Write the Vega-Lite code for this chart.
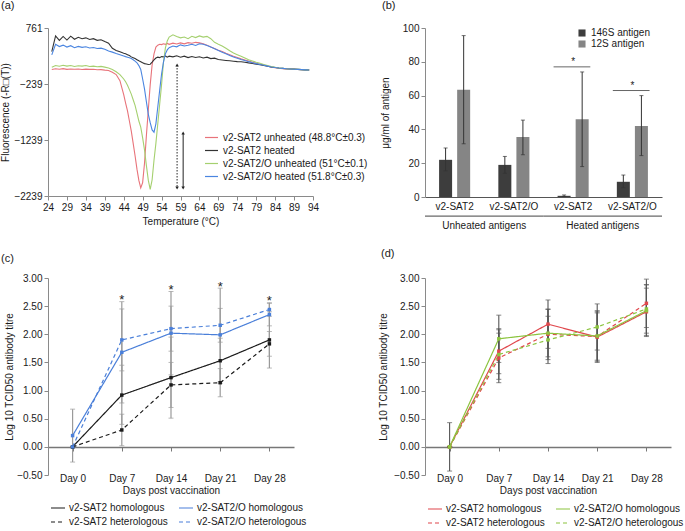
{
  "$schema": "https://vega.github.io/schema/vega-lite/v6.json",
  "background": "white",
  "padding": {"left": 0, "top": 0, "right": 2, "bottom": 0},
  "columns": 2,
  "bounds": "flush",
  "align": "each",
  "spacing": {"row": 81, "column": 112},
  "resolve": {
    "scale": {"color": "independent", "strokeDash": "independent", "shape": "independent"},
    "legend": {"color": "independent", "strokeDash": "independent", "shape": "independent"}
  },
  "config": {
    "font": "Liberation Sans",
    "view": {"stroke": null},
    "axis": {"labelFontSize": 10, "titleFontSize": 10, "titleFontWeight": "normal", "labelColor": "#1a1a1a", "titleColor": "#1a1a1a", "domainColor": "#8a8a8a", "tickColor": "#8a8a8a", "grid": false, "tickSize": 4, "labelPadding": 2, "labelOverlap": false, "labelFlush": false},
    "legend": {"labelFontSize": 10, "labelColor": "#1a1a1a"},
    "title": {"fontSize": 11, "fontWeight": "normal", "anchor": "start", "frame": "group", "color": "#1a1a1a"}
  },
  "concat": [
    {
      "width": 265, "height": 168,
      "title": {"text": "(a)", "dx": -47, "offset": 12},
      "layer": [
        {
          "data": {"values": [
            {"T":25,"r":20,"k":340,"g":60,"b":280},
            {"T":26,"r":32,"k":620,"g":92,"b":470},
            {"T":27,"r":24,"k":540,"g":78,"b":430},
            {"T":28,"r":36,"k":610,"g":96,"b":455},
            {"T":29,"r":22,"k":545,"g":80,"b":420},
            {"T":30,"r":30,"k":615,"g":92,"b":445},
            {"T":31,"r":24,"k":560,"g":74,"b":410},
            {"T":32,"r":30,"k":595,"g":86,"b":432},
            {"T":33,"r":20,"k":570,"g":80,"b":415},
            {"T":34,"r":26,"k":585,"g":90,"b":425},
            {"T":35,"r":22,"k":555,"g":74,"b":405},
            {"T":36,"r":24,"k":570,"g":80,"b":412},
            {"T":37,"r":16,"k":540,"g":70,"b":395},
            {"T":38,"r":18,"k":552,"g":76,"b":402},
            {"T":39,"r":8,"k":520,"g":62,"b":380},
            {"T":40,"r":2,"k":490,"g":48,"b":350},
            {"T":41,"r":-30,"k":400,"g":20,"b":330},
            {"T":42,"r":-70,"k":360,"g":-20,"b":305},
            {"T":43,"r":-180,"k":335,"g":-70,"b":285},
            {"T":44,"r":-430,"k":310,"g":-150,"b":262},
            {"T":44.5,"r":-580,"k":300,"g":-200,"b":250},
            {"T":45,"r":-720,"k":285,"g":-260,"b":240},
            {"T":45.5,"r":-900,"k":270,"g":-340,"b":230},
            {"T":46,"r":-1080,"k":245,"g":-420,"b":215},
            {"T":46.5,"r":-1300,"k":230,"g":-520,"b":195},
            {"T":47,"r":-1520,"k":215,"g":-620,"b":170},
            {"T":47.5,"r":-1760,"k":195,"g":-760,"b":140},
            {"T":48,"r":-1960,"k":175,"g":-900,"b":90},
            {"T":48.5,"r":-2095,"k":160,"g":-1010,"b":20},
            {"T":49,"r":-2000,"k":140,"g":-1200,"b":-150},
            {"T":49.5,"r":-1650,"k":125,"g":-1420,"b":-330},
            {"T":50,"r":-1150,"k":118,"g":-1700,"b":-560},
            {"T":50.5,"r":-700,"k":110,"g":-1960,"b":-780},
            {"T":51,"r":-250,"k":115,"g":-2120,"b":-930},
            {"T":51.5,"r":100,"k":150,"g":-1950,"b":-1060},
            {"T":52,"r":300,"k":190,"g":-1600,"b":-1100},
            {"T":52.5,"r":420,"k":225,"g":-1300,"b":-950},
            {"T":53,"r":455,"k":240,"g":-950,"b":-650},
            {"T":53.5,"r":470,"k":232,"g":-600,"b":-350},
            {"T":54,"r":465,"k":250,"g":-250,"b":-60},
            {"T":54.5,"r":480,"k":245,"g":150,"b":150},
            {"T":55,"r":470,"k":262,"g":400,"b":300},
            {"T":55.5,"r":485,"k":240,"g":530,"b":370},
            {"T":56,"r":470,"k":258,"g":600,"b":410},
            {"T":57,"r":490,"k":245,"g":640,"b":440},
            {"T":58,"r":475,"k":265,"g":610,"b":425},
            {"T":59,"r":495,"k":238,"g":585,"b":460},
            {"T":60,"r":478,"k":258,"g":600,"b":440},
            {"T":61,"r":500,"k":232,"g":570,"b":452},
            {"T":62,"r":488,"k":252,"g":612,"b":470},
            {"T":63,"r":505,"k":235,"g":590,"b":448},
            {"T":64,"r":495,"k":248,"g":620,"b":480},
            {"T":65,"r":480,"k":225,"g":598,"b":470},
            {"T":66,"r":455,"k":240,"g":612,"b":450},
            {"T":67,"r":420,"k":215,"g":570,"b":420},
            {"T":68,"r":395,"k":222,"g":505,"b":390},
            {"T":69,"r":365,"k":198,"g":470,"b":360},
            {"T":70,"r":340,"k":190,"g":440,"b":330},
            {"T":71,"r":310,"k":182,"g":400,"b":300},
            {"T":72,"r":285,"k":175,"g":355,"b":272},
            {"T":73,"r":255,"k":168,"g":315,"b":245},
            {"T":74,"r":235,"k":160,"g":285,"b":222},
            {"T":75,"r":210,"k":158,"g":255,"b":200},
            {"T":76,"r":190,"k":150,"g":225,"b":180},
            {"T":77,"r":170,"k":138,"g":195,"b":160},
            {"T":78,"r":150,"k":128,"g":172,"b":142},
            {"T":79,"r":130,"k":115,"g":150,"b":125},
            {"T":80,"r":115,"k":104,"g":130,"b":110},
            {"T":81,"r":100,"k":90,"g":110,"b":95},
            {"T":82,"r":82,"k":78,"g":90,"b":80},
            {"T":83,"r":62,"k":64,"g":72,"b":66},
            {"T":84,"r":50,"k":55,"g":60,"b":55},
            {"T":85,"r":42,"k":46,"g":46,"b":46},
            {"T":86,"r":36,"k":40,"g":40,"b":40},
            {"T":87,"r":30,"k":34,"g":34,"b":34},
            {"T":88,"r":28,"k":30,"g":30,"b":30},
            {"T":89,"r":24,"k":26,"g":25,"b":25},
            {"T":90,"r":20,"k":22,"g":22,"b":22},
            {"T":91,"r":18,"k":18,"g":18,"b":18},
            {"T":92,"r":14,"k":14,"g":14,"b":14},
            {"T":93,"r":10,"k":10,"g":10,"b":10}
          ]},
          "transform": [{"fold": ["r", "k", "g", "b"], "as": ["s", "v"]}],
          "mark": {"type": "line", "strokeWidth": 1.1},
          "encoding": {
            "x": {"field": "T", "type": "quantitative", "scale": {"domain": [24, 94], "nice": false, "zero": false}, "axis": {"values": [24,29,34,39,44,49,54,59,64,69,74,79,84,89,94], "tickCount": 30, "title": "Temperature (°C)", "labelOverlap": false, "labelFlush": false}},
            "y": {"field": "v", "type": "quantitative", "scale": {"domain": [-2239, 761], "nice": false, "zero": false}, "axis": {"values": [-2239, -1239, -239, 761], "tickCount": 30, "format": "d", "title": "Fluorescence (-R□(T))", "titlePadding": 3, "labelOverlap": false, "labelFlush": false}},
            "color": {"field": "s", "type": "nominal", "scale": {"domain": ["r", "k", "g", "b"], "range": ["#e8737a", "#333333", "#a5d06f", "#4a85e0"]},
              "legend": {"title": null, "orient": "none", "legendX": 156, "legendY": 102, "symbolType": "stroke", "symbolSize": 169, "symbolStrokeWidth": 1.2, "rowPadding": 0, "labelOffset": 4, "labelFontSize": 10,
                "labelExpr": "datum.value == 'r' ? 'v2-SAT2 unheated (48.8°C±0.3)' : datum.value == 'k' ? 'v2-SAT2 heated' : datum.value == 'g' ? 'v2-SAT2/O unheated (51°C±0.1)' : 'v2-SAT2/O heated (51.8°C±0.3)'"}}
          }
        },
        {
          "data": {"values": [{"T": 58.1, "top": 100, "bot": -2096, "style": "dotted"}, {"T": 59.7, "top": -1114, "bot": -2096, "style": "solid"}]},
          "mark": {"type": "rule", "color": "#222", "strokeWidth": 1},
          "encoding": {
            "x": {"field": "T", "type": "quantitative"},
            "y": {"field": "top", "type": "quantitative"},
            "y2": {"field": "bot"},
            "strokeDash": {"field": "style", "type": "nominal", "scale": {"domain": ["dotted", "solid"], "range": [[1.5, 1.5], [1, 0]]}, "legend": null}
          }
        },
        {
          "data": {"values": [{"T": 58.1, "y": 100, "dir": "up"}, {"T": 58.1, "y": -2096, "dir": "down"}, {"T": 59.7, "y": -1114, "dir": "up"}, {"T": 59.7, "y": -2096, "dir": "down"}]},
          "mark": {"type": "point", "filled": true, "color": "#222", "size": 12, "opacity": 1},
          "encoding": {
            "x": {"field": "T", "type": "quantitative"},
            "y": {"field": "y", "type": "quantitative"},
            "shape": {"field": "dir", "type": "nominal", "scale": {"domain": ["up", "down"], "range": ["triangle-up", "triangle-down"]}, "legend": null}
          }
        }
      ]
    },
    {
      "width": 237, "height": 169,
      "title": {"text": "(b)", "dx": -43, "offset": 12},
      "layer": [
        {
          "data": {"values": [
            {"cat": "Unheated|v2-SAT2", "ant": "146S antigen", "v": 22, "lo": 15.5, "hi": 29},
            {"cat": "Unheated|v2-SAT2", "ant": "12S antigen", "v": 63.5, "lo": 31.5, "hi": 95.5},
            {"cat": "Unheated|v2-SAT2/O", "ant": "146S antigen", "v": 19, "lo": 14, "hi": 24},
            {"cat": "Unheated|v2-SAT2/O", "ant": "12S antigen", "v": 35.5, "lo": 25, "hi": 45.5},
            {"cat": "Heated|v2-SAT2", "ant": "146S antigen", "v": 0.7, "lo": 0.3, "hi": 1.2},
            {"cat": "Heated|v2-SAT2", "ant": "12S antigen", "v": 46, "lo": 18, "hi": 74},
            {"cat": "Heated|v2-SAT2/O", "ant": "146S antigen", "v": 9, "lo": 5.5, "hi": 13},
            {"cat": "Heated|v2-SAT2/O", "ant": "12S antigen", "v": 42, "lo": 24.5, "hi": 60}
          ]},
          "encoding": {
            "x": {"field": "cat", "type": "nominal", "title": null, "scale": {"domain": ["Unheated|v2-SAT2", "Unheated|v2-SAT2/O", "Heated|v2-SAT2", "Heated|v2-SAT2/O"], "paddingInner": 0, "paddingOuter": 0}, "axis": {"labelExpr": "split(datum.label, '|')[1]", "ticks": false, "labelPadding": 4, "labelAngle": 0, "domainColor": "#555", "labelOverlap": false}},
            "xOffset": {"field": "ant", "type": "nominal", "scale": {"domain": ["146S antigen", "12S antigen"], "paddingInner": 0.28, "paddingOuter": 0.78}}
          },
          "layer": [
            {
              "mark": {"type": "bar"},
              "encoding": {
                "y": {"field": "v", "type": "quantitative", "scale": {"domain": [0, 100], "nice": false}, "axis": {"values": [0, 20, 40, 60, 80, 100], "tickCount": 30, "title": "μg/ml of antigen", "titlePadding": 12, "labelOverlap": false, "labelFlush": false}},
                "color": {"field": "ant", "type": "nominal", "scale": {"domain": ["146S antigen", "12S antigen"], "range": ["#3d3d3d", "#858585"]}, "legend": {"title": null, "orient": "none", "legendX": 152, "legendY": 0, "symbolType": "square", "symbolSize": 50, "rowPadding": 1, "labelFontSize": 10}}
              }
            },
            {
              "mark": {"type": "rule", "color": "#333", "strokeWidth": 1},
              "encoding": {"y": {"field": "lo", "type": "quantitative"}, "y2": {"field": "hi"}}
            },
            {
              "mark": {"type": "tick", "color": "#333", "size": 4, "thickness": 1},
              "encoding": {"y": {"field": "hi", "type": "quantitative"}}
            },
            {
              "mark": {"type": "tick", "color": "#333", "size": 4, "thickness": 1},
              "encoding": {"y": {"field": "lo", "type": "quantitative"}}
            }
          ]
        },
        {
          "data": {"values": [{"cat": "Heated|v2-SAT2", "y": 77, "star": "*"}, {"cat": "Heated|v2-SAT2/O", "y": 63, "star": "*"}]},
          "layer": [
            {
              "mark": {"type": "rule", "color": "#666", "strokeWidth": 1},
              "encoding": {
                "x": {"field": "cat", "type": "nominal", "title": null, "bandPosition": 0.17},
                "x2": {"field": "cat", "bandPosition": 0.79},
                "y": {"field": "y", "type": "quantitative"}
              }
            },
            {
              "mark": {"type": "text", "fontSize": 10, "dy": -5, "color": "#222"},
              "encoding": {
                "x": {"field": "cat", "type": "nominal", "title": null},
                "y": {"field": "y", "type": "quantitative"},
                "text": {"field": "star"}
              }
            }
          ]
        },
        {
          "data": {"values": [
            {"grp": "Unheated antigens", "first": "Unheated|v2-SAT2", "last": "Unheated|v2-SAT2/O"},
            {"grp": "Heated antigens", "first": "Heated|v2-SAT2", "last": "Heated|v2-SAT2/O"}
          ]},
          "layer": [
            {
              "mark": {"type": "rule", "color": "#444", "strokeWidth": 1},
              "encoding": {
                "x": {"field": "first", "type": "nominal", "title": null, "bandPosition": 0},
                "x2": {"field": "last", "bandPosition": 1},
                "y": {"datum": -11.3}
              }
            },
            {
              "mark": {"type": "text", "fontSize": 10, "baseline": "middle", "color": "#1a1a1a"},
              "encoding": {
                "x": {"field": "last", "type": "nominal", "title": null, "bandPosition": 0},
                "y": {"datum": -17},
                "text": {"field": "grp"}
              }
            }
          ]
        }
      ]
    },
    {
      "width": 246, "height": 197,
      "title": {"text": "(c)", "dx": -47, "offset": 9},
      "layer": [
        {
          "data": {"values": [
            {"day": "Day 0", "s": "v2-SAT2 homologous", "v": 0, "lo": 0, "hi": 0},
            {"day": "Day 7", "s": "v2-SAT2 homologous", "v": 0.92, "lo": 0.40, "hi": 1.45},
            {"day": "Day 14", "s": "v2-SAT2 homologous", "v": 1.23, "lo": 0.51, "hi": 1.95},
            {"day": "Day 21", "s": "v2-SAT2 homologous", "v": 1.53, "lo": 1.13, "hi": 1.93},
            {"day": "Day 28", "s": "v2-SAT2 homologous", "v": 1.90, "lo": 1.40, "hi": 2.40},
            {"day": "Day 0", "s": "v2-SAT2 heterologous", "v": 0, "lo": 0, "hi": 0},
            {"day": "Day 7", "s": "v2-SAT2 heterologous", "v": 0.30, "lo": 0.02, "hi": 0.58},
            {"day": "Day 14", "s": "v2-SAT2 heterologous", "v": 1.10, "lo": 0.70, "hi": 1.50},
            {"day": "Day 21", "s": "v2-SAT2 heterologous", "v": 1.14, "lo": 0.89, "hi": 1.39},
            {"day": "Day 28", "s": "v2-SAT2 heterologous", "v": 1.83, "lo": 1.61, "hi": 2.05},
            {"day": "Day 0", "s": "v2-SAT2/O homologous", "v": 0.20, "lo": -0.27, "hi": 0.67},
            {"day": "Day 7", "s": "v2-SAT2/O homologous", "v": 1.68, "lo": 0.78, "hi": 2.58},
            {"day": "Day 14", "s": "v2-SAT2/O homologous", "v": 2.02, "lo": 1.28, "hi": 2.76},
            {"day": "Day 21", "s": "v2-SAT2/O homologous", "v": 1.99, "lo": 1.16, "hi": 2.82},
            {"day": "Day 28", "s": "v2-SAT2/O homologous", "v": 2.35, "lo": 2.15, "hi": 2.55},
            {"day": "Day 0", "s": "v2-SAT2/O heterologous", "v": 0, "lo": 0, "hi": 0},
            {"day": "Day 7", "s": "v2-SAT2/O heterologous", "v": 1.90, "lo": 1.35, "hi": 2.45},
            {"day": "Day 14", "s": "v2-SAT2/O heterologous", "v": 2.10, "lo": 1.70, "hi": 2.50},
            {"day": "Day 21", "s": "v2-SAT2/O heterologous", "v": 2.16, "lo": 1.86, "hi": 2.46},
            {"day": "Day 28", "s": "v2-SAT2/O heterologous", "v": 2.44, "lo": 2.32, "hi": 2.56}
          ]},
          "encoding": {
            "x": {"field": "day", "type": "ordinal", "scale": {"type": "point", "padding": 0.5, "domain": ["Day 0", "Day 7", "Day 14", "Day 21", "Day 28"]}, "axis": {"title": "Days post vaccination", "labelAngle": 0, "offset": -28, "labelPadding": 22, "titlePadding": 2, "domainColor": "#777", "domainWidth": 1.5, "tickColor": "#777", "labelOverlap": false}}
          },
          "layer": [
            {
              "mark": {"type": "rule", "color": "#9a9a9a", "strokeWidth": 1.2},
              "encoding": {
                "y": {"field": "lo", "type": "quantitative", "scale": {"domain": [-0.5, 3], "nice": false, "zero": false}, "axis": {"values": [-0.5, 0, 0.5, 1, 1.5, 2, 2.5, 3], "tickCount": 30, "format": ".2f", "title": "Log 10 TCID50 antibody titre", "titlePadding": 2, "labelOverlap": false, "labelFlush": false}},
                "y2": {"field": "hi"}
              }
            },
            {
              "mark": {"type": "tick", "color": "#9a9a9a", "size": 5, "thickness": 1},
              "encoding": {"y": {"field": "hi", "type": "quantitative"}}
            },
            {
              "mark": {"type": "tick", "color": "#9a9a9a", "size": 5, "thickness": 1},
              "encoding": {"y": {"field": "lo", "type": "quantitative"}}
            },
            {
              "mark": {"type": "line", "strokeWidth": 1.2, "point": {"filled": true, "size": 12, "shape": "square"}},
              "encoding": {
                "y": {"field": "v", "type": "quantitative"},
                "color": {"field": "s", "type": "nominal", "scale": {"domain": ["v2-SAT2 homologous", "v2-SAT2/O homologous", "v2-SAT2 heterologous", "v2-SAT2/O heterologous"], "range": ["#1a1a1a", "#4a7fd9", "#1a1a1a", "#4a7fd9"]},
                  "legend": {"title": null, "orient": "none", "direction": "horizontal", "legendX": 2, "legendY": 222, "columns": 2, "columnPadding": 8, "rowPadding": 1, "symbolType": "stroke", "symbolSize": 196, "symbolStrokeWidth": 1.2, "labelFontSize": 10, "labelOffset": 3}},
                "strokeDash": {"field": "s", "type": "nominal", "scale": {"domain": ["v2-SAT2 homologous", "v2-SAT2/O homologous", "v2-SAT2 heterologous", "v2-SAT2/O heterologous"], "range": [[1, 0], [1, 0], [4, 3], [4, 3]]},
                  "legend": {"title": null, "orient": "none", "direction": "horizontal", "legendX": 2, "legendY": 222, "columns": 2, "columnPadding": 8, "rowPadding": 1, "symbolType": "stroke", "symbolSize": 196, "symbolStrokeWidth": 1.2, "labelFontSize": 10, "labelOffset": 3}}
              }
            }
          ]
        },
        {
          "data": {"values": [{"day": "Day 7", "y": 2.66, "star": "*"}, {"day": "Day 14", "y": 2.84, "star": "*"}, {"day": "Day 21", "y": 2.9, "star": "*"}, {"day": "Day 28", "y": 2.64, "star": "*"}]},
          "mark": {"type": "text", "fontSize": 13, "baseline": "middle", "dy": 3, "color": "#222"},
          "encoding": {
            "x": {"field": "day", "type": "ordinal"},
            "y": {"field": "y", "type": "quantitative"},
            "text": {"field": "star"}
          }
        }
      ]
    },
    {
      "width": 246, "height": 197,
      "title": {"text": "(d)", "dx": -44, "offset": 14},
      "data": {"values": [
        {"day": "Day 0", "s": "v2-SAT2 homologous", "v": 0, "lo": -0.43, "hi": 0.43},
        {"day": "Day 7", "s": "v2-SAT2 homologous", "v": 1.70, "lo": 1.30, "hi": 2.10},
        {"day": "Day 14", "s": "v2-SAT2 homologous", "v": 2.18, "lo": 1.75, "hi": 2.61},
        {"day": "Day 21", "s": "v2-SAT2 homologous", "v": 1.95, "lo": 1.50, "hi": 2.40},
        {"day": "Day 28", "s": "v2-SAT2 homologous", "v": 2.40, "lo": 1.98, "hi": 2.82},
        {"day": "Day 0", "s": "v2-SAT2 heterologous", "v": 0, "lo": 0, "hi": 0},
        {"day": "Day 7", "s": "v2-SAT2 heterologous", "v": 1.58, "lo": 1.14, "hi": 2.02},
        {"day": "Day 14", "s": "v2-SAT2 heterologous", "v": 2.00, "lo": 1.55, "hi": 2.45},
        {"day": "Day 21", "s": "v2-SAT2 heterologous", "v": 1.96, "lo": 1.54, "hi": 2.38},
        {"day": "Day 28", "s": "v2-SAT2 heterologous", "v": 2.55, "lo": 2.12, "hi": 2.98},
        {"day": "Day 0", "s": "v2-SAT2/O homologous", "v": 0, "lo": 0, "hi": 0},
        {"day": "Day 7", "s": "v2-SAT2/O homologous", "v": 1.92, "lo": 1.50, "hi": 2.34},
        {"day": "Day 14", "s": "v2-SAT2/O homologous", "v": 2.02, "lo": 1.60, "hi": 2.44},
        {"day": "Day 21", "s": "v2-SAT2/O homologous", "v": 1.97, "lo": 1.52, "hi": 2.42},
        {"day": "Day 28", "s": "v2-SAT2/O homologous", "v": 2.42, "lo": 1.96, "hi": 2.88},
        {"day": "Day 0", "s": "v2-SAT2/O heterologous", "v": 0, "lo": 0, "hi": 0},
        {"day": "Day 7", "s": "v2-SAT2/O heterologous", "v": 1.64, "lo": 1.20, "hi": 2.08},
        {"day": "Day 14", "s": "v2-SAT2/O heterologous", "v": 1.90, "lo": 1.48, "hi": 2.32},
        {"day": "Day 21", "s": "v2-SAT2/O heterologous", "v": 2.13, "lo": 1.72, "hi": 2.54},
        {"day": "Day 28", "s": "v2-SAT2/O heterologous", "v": 2.45, "lo": 2.02, "hi": 2.88}
      ]},
      "encoding": {
        "x": {"field": "day", "type": "ordinal", "scale": {"type": "point", "padding": 0.5, "domain": ["Day 0", "Day 7", "Day 14", "Day 21", "Day 28"]}, "axis": {"title": "Days post vaccination", "labelAngle": 0, "offset": -28, "labelPadding": 22, "titlePadding": 2, "domainColor": "#777", "domainWidth": 1.5, "tickColor": "#777", "labelOverlap": false}}
      },
      "layer": [
        {
          "mark": {"type": "rule", "color": "#555", "strokeWidth": 1.1},
          "encoding": {
            "y": {"field": "lo", "type": "quantitative", "scale": {"domain": [-0.5, 3], "nice": false, "zero": false}, "axis": {"values": [-0.5, 0, 0.5, 1, 1.5, 2, 2.5, 3], "tickCount": 30, "format": ".2f", "title": "Log 10 TCID50 antibody titre", "titlePadding": 5, "labelOverlap": false, "labelFlush": false}},
            "y2": {"field": "hi"}
          }
        },
        {
          "mark": {"type": "tick", "color": "#555", "size": 5, "thickness": 1},
          "encoding": {"y": {"field": "hi", "type": "quantitative"}}
        },
        {
          "mark": {"type": "tick", "color": "#555", "size": 5, "thickness": 1},
          "encoding": {"y": {"field": "lo", "type": "quantitative"}}
        },
        {
          "mark": {"type": "line", "strokeWidth": 1.2, "point": {"filled": true, "size": 12, "shape": "square"}},
          "encoding": {
            "y": {"field": "v", "type": "quantitative"},
            "color": {"field": "s", "type": "nominal", "scale": {"domain": ["v2-SAT2 homologous", "v2-SAT2/O homologous", "v2-SAT2 heterologous", "v2-SAT2/O heterologous"], "range": ["#e0474c", "#8cc43f", "#e0474c", "#8cc43f"]},
              "legend": {"title": null, "orient": "none", "direction": "horizontal", "legendX": 2, "legendY": 223, "columns": 2, "columnPadding": 8, "rowPadding": 1, "symbolType": "stroke", "symbolSize": 196, "symbolStrokeWidth": 1.2, "labelFontSize": 10, "labelOffset": 3}},
            "strokeDash": {"field": "s", "type": "nominal", "scale": {"domain": ["v2-SAT2 homologous", "v2-SAT2/O homologous", "v2-SAT2 heterologous", "v2-SAT2/O heterologous"], "range": [[1, 0], [1, 0], [4, 3], [4, 3]]},
              "legend": {"title": null, "orient": "none", "direction": "horizontal", "legendX": 2, "legendY": 223, "columns": 2, "columnPadding": 8, "rowPadding": 1, "symbolType": "stroke", "symbolSize": 196, "symbolStrokeWidth": 1.2, "labelFontSize": 10, "labelOffset": 3}}
          }
        }
      ]
    }
  ]
}
